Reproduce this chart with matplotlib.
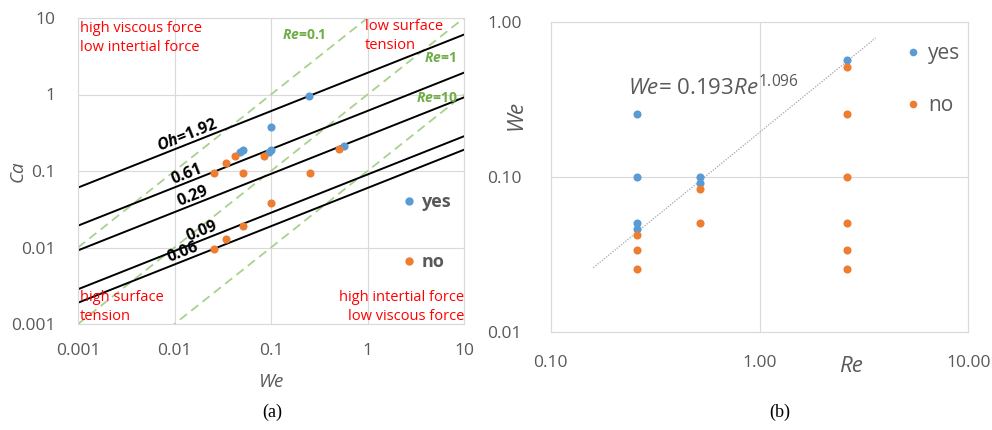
import numpy as np
import matplotlib
matplotlib.use("Agg")
import matplotlib.pyplot as plt
from matplotlib.lines import Line2D

plt.rcParams['font.family'] = ['Open Sans', 'DejaVu Sans']
plt.rcParams['mathtext.fontset'] = 'custom'
plt.rcParams['mathtext.rm'] = 'Open Sans'
plt.rcParams['mathtext.it'] = 'Open Sans:italic'
plt.rcParams['mathtext.bf'] = 'Open Sans:bold'
plt.rcParams['mathtext.bfit'] = 'Open Sans:italic:bold'

# ---------------- data: panel (a) We vs Ca ----------------
yes_we_a = [0.25, 0.10, 0.10, 0.095, 0.051, 0.0475, 0.57]
yes_ca_a = [0.95, 0.38, 0.19, 0.175, 0.19, 0.179, 0.212]
no_we_a = [0.51, 0.254, 0.084, 0.0425, 0.0338, 0.0256, 0.051, 0.10, 0.051, 0.0338, 0.0256]
no_ca_a = [0.192, 0.095, 0.158, 0.158, 0.127, 0.095, 0.095, 0.0385, 0.0191, 0.0128, 0.0095]
oh_values = [1.92, 0.61, 0.29, 0.09, 0.06]
oh_labels = ["Oh=1.92", "0.61", "0.29", "0.09", "0.06"]
oh_label_we = [0.0146, 0.0143, 0.0165, 0.0204, 0.013]
re_values = [0.1, 1, 10]
re_labels = ["Re=0.1", "Re=1", "Re=10"]
xticks_a = [0.001, 0.01, 0.1, 1, 10]
xticklabels_a = ["0.001", "0.01", "0.1", "1", "10"]
yticks_a = [0.001, 0.01, 0.1, 1, 10]
yticklabels_a = ["0.001", "0.01", "0.1", "1", "10"]

# ---------------- data: panel (b) Re vs We ----------------
yes_re_b = [0.26, 0.26, 0.52, 0.52, 2.62, 0.26, 0.26]
yes_we_b = [0.253, 0.10, 0.10, 0.0906, 0.566, 0.0503, 0.046]
no_re_b = [2.62, 2.62, 2.62, 0.52, 0.52, 2.62, 2.62, 2.62, 0.26, 0.26, 0.26]
no_we_b = [0.508, 0.253, 0.10, 0.0837, 0.0503, 0.0503, 0.0335, 0.0253, 0.0419, 0.0335, 0.0253]
fit_coef = 0.193
fit_exp = 1.096
fit_re_range = [0.16, 3.6]
xticks_b = [0.1, 1, 10]
xticklabels_b = ["0.10", "1.00", "10.00"]
yticks_b = [0.01, 0.1, 1]
yticklabels_b = ["0.01", "0.10", "1.00"]

BLUE = '#5B9BD5'
ORANGE = '#ED7D31'
GRID = '#D9D9D9'
TXT = '#595959'
RED = '#FF0000'
GREEN = '#70AD47'
LGREEN = '#A9D18E'

fig = plt.figure(figsize=(9.92, 4.30), dpi=100)
W, H = 992, 430

def ax_rect(x0, y0, x1, y1):
    return [x0 / W, 1 - y1 / H, (x1 - x0) / W, (y1 - y0) / H]

def fig_text(x, y, s, **kw):
    fig.text(x / W, 1 - y / H, s, **kw)

# ================= panel (a) =================
ax = fig.add_axes(ax_rect(78, 18, 464, 324))
ax.set_xscale('log')
ax.set_yscale('log')
ax.set_xlim(0.001, 10)
ax.set_ylim(0.001, 10)
ax.set_xticks(xticks_a, xticklabels_a)
ax.set_yticks(yticks_a, yticklabels_a)
ax.minorticks_off()
ax.tick_params(length=0, colors=TXT, labelsize=12.5, pad=14)
ax.tick_params(axis='y', pad=16)
ax.grid(True, color=GRID, lw=0.8)
for s in ax.spines.values():
    s.set_color(GRID)
    s.set_linewidth(0.8)
ax.set_axisbelow(True)

we_line = np.array([0.001, 10.0])
for re in re_values:
    ax.plot(we_line, we_line / re, color=LGREEN, lw=1.3, ls=(0, (5, 3)), zorder=1)
for oh in oh_values:
    ax.plot(we_line, oh * np.sqrt(we_line), color='black', lw=1.4, zorder=2)

p0 = ax.transData.transform((0.001, 0.001))
p1 = ax.transData.transform((10, 10))
ang_oh = np.degrees(np.arctan2(0.5 * (p1[1] - p0[1]), p1[0] - p0[0]))
for oh, lab, we in zip(oh_values, oh_labels, oh_label_we):
    txt = lab
    if lab.startswith("Oh"):
        txt = r"$\mathbfit{Oh}$" + lab[2:]
    ax.text(we, oh * np.sqrt(we), txt, rotation=ang_oh, rotation_mode='anchor',
            ha='center', va='bottom', fontsize=11.5, fontweight='bold', color='black', zorder=4)

ax.scatter(yes_we_a, yes_ca_a, s=34, color=BLUE, zorder=5, linewidths=0)
ax.scatter(no_we_a, no_ca_a, s=34, color=ORANGE, zorder=6, linewidths=0)

# red region labels
red_kw = dict(color=RED, fontsize=10.5, va='center', linespacing=1.35)
fig_text(80, 38, "high viscous force\nlow intertial force", ha='left', **red_kw)
fig_text(365, 36, "low surface\ntension", ha='left', **red_kw)
fig_text(80, 307, "high surface\ntension", ha='left', **red_kw)
fig_text(464, 307, "high intertial force\nlow viscous force", ha='right', **red_kw)

# green Re labels
re_label_pos = [(282, 35, 'left'), (456, 58, 'right'), (458, 98, 'right')]
for lab, (x, y, ha) in zip(re_labels, re_label_pos):
    fig_text(x, y, r"$\mathbfit{Re}$" + lab[2:], color=GREEN, fontsize=10, fontweight='bold',
             va='center', ha=ha)

fig_text(18, 171, "Ca", rotation=90, fontstyle='italic', fontsize=13.5, color=TXT,
         ha='center', va='center')
fig_text(272, 382, "We", fontstyle='italic', fontsize=13.5, color=TXT, ha='center', va='center')

h_yes = Line2D([], [], ls='', marker='o', ms=6, color=BLUE, mec='none')
h_no = Line2D([], [], ls='', marker='o', ms=6, color=ORANGE, mec='none')
ax.legend([h_yes, h_no], ["yes", "no"], loc='upper left',
          bbox_to_anchor=((400 - 78) / 386, (324 - 193) / 306), frameon=False,
          prop={'size': 13, 'weight': 'bold'}, labelcolor=TXT,
          handletextpad=0.2, labelspacing=2.35, handlelength=1.0, borderpad=0,
          borderaxespad=0)

fig_text(272, 412, "(a)", family='Liberation Serif', fontsize=13, ha='center', va='center')

# ================= panel (b) =================
bx = fig.add_axes(ax_rect(550.7, 21.7, 968.3, 331.7))
bx.set_xscale('log')
bx.set_yscale('log')
bx.set_xlim(0.1, 10)
bx.set_ylim(0.01, 1)
bx.set_xticks(xticks_b, xticklabels_b)
bx.set_yticks(yticks_b, yticklabels_b)
bx.minorticks_off()
bx.tick_params(length=0, colors=TXT, labelsize=12.5)
bx.tick_params(axis='x', pad=17)
bx.tick_params(axis='y', pad=21)
bx.grid(True, color=GRID, lw=0.8)
for s in bx.spines.values():
    s.set_color(GRID)
    s.set_linewidth(0.8)
bx.set_axisbelow(True)

fit_re = np.geomspace(fit_re_range[0], fit_re_range[1], 50)
bx.plot(fit_re, fit_coef * fit_re ** fit_exp, color='#A6A6A6', lw=0.9, ls=(0, (1, 1.2)), zorder=2)

bx.scatter(yes_re_b, yes_we_b, s=34, color=BLUE, zorder=5, linewidths=0)
bx.scatter(no_re_b, no_we_b, s=34, color=ORANGE, zorder=6, linewidths=0)

fig_text(628, 88, r"$\mathit{We}$= %.3f$\mathit{Re}^{%.3f}$" % (fit_coef, fit_exp),
         fontsize=16, color=TXT, ha='left', va='center')
fig_text(516, 115, "We", rotation=90, fontstyle='italic', fontsize=16, color=TXT,
         ha='center', va='center')
fig_text(851, 366, "Re", fontstyle='italic', fontsize=16, color=TXT, ha='center', va='center')

h_yes2 = Line2D([], [], ls='', marker='o', ms=5.5, color=BLUE, mec='none')
h_no2 = Line2D([], [], ls='', marker='o', ms=5.5, color=ORANGE, mec='none')
bx.legend([h_yes2, h_no2], ["yes", "no"], loc='upper left',
          bbox_to_anchor=((903 - 550.7) / 417.6, (331.7 - 43) / 310), frameon=False,
          prop={'size': 15}, labelcolor=TXT,
          handletextpad=0.2, labelspacing=1.5, handlelength=1.0, borderpad=0,
          borderaxespad=0)

fig_text(780, 412, "(b)", family='Liberation Serif', fontsize=13, ha='center', va='center')

fig.savefig("out.png", dpi=100)
